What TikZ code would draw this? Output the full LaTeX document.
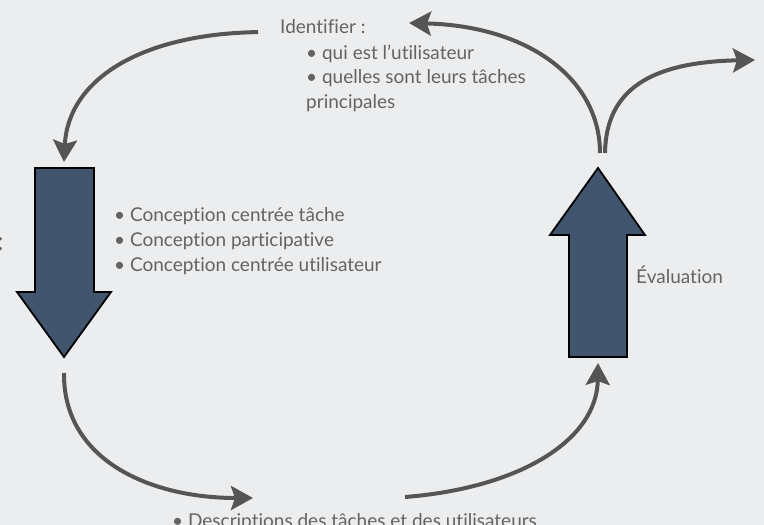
\documentclass[tikz,border=0pt]{standalone}
\usepackage{fontspec}
\setmainfont{Lato}[Ligatures={NoCommon,NoRare}]
\usepackage{tikz}
\usetikzlibrary{arrows.meta}

\definecolor{fond}{HTML}{ECEDEF}
\definecolor{bleu}{HTML}{42556F}
\definecolor{trait}{HTML}{555555}
\definecolor{gristexte}{HTML}{636363}

\begin{document}
\begin{tikzpicture}[
    x=1pt,y=-1pt,
    bloc/.style={draw=black, line width=1.8pt, fill=bleu, line join=miter},
    fleche/.style={draw=trait, line width=4pt, -{Stealth[length=22pt,width=24pt,inset=4pt]}},
    txt/.style={text=gristexte, font=\fontsize{19}{25}\selectfont, align=left, inner sep=0pt}
]
    \useasboundingbox (0,0) rectangle (764,525);
    \clip (0,0) rectangle (764,525);
    \fill[fond] (0,0) rectangle (764,525);

    % les deux grandes fleches
    \coordinate (conchaut) at (64,168);
    \coordinate (concbas)  at (64,357);
    \coordinate (evalhaut) at (598,168);
    \coordinate (evalbas)  at (598,357);
    \draw[bloc] (35,168) -- (94,168) -- (94,292) -- (111,292) -- (concbas)
        -- (17,292) -- (35,292) -- cycle;
    \draw[bloc] (569,357) -- (569,235) -- (550,235) -- (evalhaut) -- (645,235)
        -- (627,235) -- (627,357) -- cycle;

    % textes
    \node[txt, anchor=base west] (ident) at (280,33) {Identifier :};
    \node[txt, anchor=base west, font=\fontsize{19}{24.5}\selectfont] (quoi) at (306,108)
        {\textbullet\ qui est l'utilisateur\\ \textbullet\ quelles sont leurs tâches\\ principales};
    \node[txt, anchor=base west] (methodes) at (114,271)
        {\textbullet\ Conception centrée tâche\\ \textbullet\ Conception participative\\ \textbullet\ Conception centrée utilisateur};
    \node[txt, anchor=base west] (evaltxt) at (636,283) {Évaluation};
    \node[txt, anchor=base west] (descr) at (172,527) {\textbullet\ Descriptions des tâches et des utilisateurs};
    \node[txt, anchor=base west, font=\fontsize{26}{26}\selectfont] (deux) at (-3,250) {:};

    % extremites libres
    \coordinate (retour) at (409,23);
    \coordinate (sortie) at (755,60);
    \coordinate (versdescr) at (253,498);
    \coordinate (depuisdescr) at (405,497);

    \draw[fleche] ([xshift=-22pt,yshift=-6pt]ident.west) .. controls (140,34) and (68,80) .. ([yshift=6pt]conchaut);
    \draw[fleche] ([xshift=2pt,yshift=15pt]evalhaut) .. controls (600,80) and (530,26) .. (retour);
    \draw[fleche] ([xshift=7pt,yshift=15pt]evalhaut) .. controls (606,90) and (650,62) .. (sortie);
    \draw[fleche] ([yshift=-16pt]concbas) .. controls (63,460) and (150,498) .. (versdescr);
    \draw[fleche] (depuisdescr) .. controls (520,488) and (597,440) .. ([yshift=-6pt]evalbas);
\end{tikzpicture}
\end{document}
